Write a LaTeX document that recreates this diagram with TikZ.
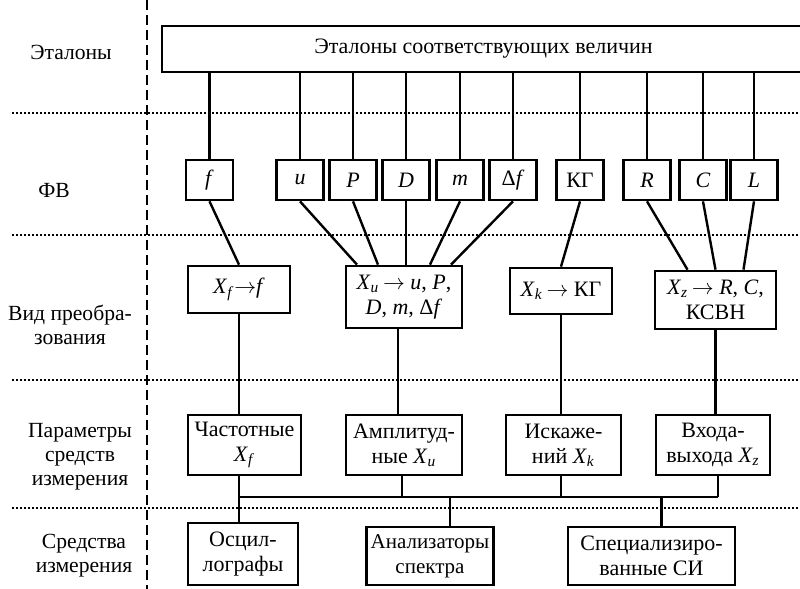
\documentclass[tikz,border=0pt]{standalone}
\usepackage{fontspec}
\setmainfont{Liberation Serif}
\tikzset{
  box/.style={draw, line width=1.35pt, inner sep=0pt, align=center,
    font=\fontsize{11}{12.5}\selectfont},
  fv/.style={box, minimum width=23.5pt, minimum height=20pt},
  lnk/.style={line width=1.2pt},
  sep/.style={line width=1.1pt, dash pattern=on 0.9pt off 1.1pt},
  lbl/.style={align=center, font=\fontsize{10.8}{12}\selectfont}
}
\newcommand{\ix}[2]{\textit{#1}\textsubscript{\textit{#2}}}

\begin{document}
\begin{tikzpicture}[x=0.5pt,y=-0.5pt]
    \useasboundingbox (0,0) rectangle (800,589);
    % level separators
    \foreach \yy in {113,235,380,508}
        \draw[sep] (12,\yy) -- (800,\yy);
    \draw[line width=1.4pt, dash pattern=on 5pt off 2.5pt] (147,0) -- (147,589);

    % row labels
    \node[lbl] (l1) at (71,52) {Эталоны};
    \node[lbl] (l2) at (54,190) {ФВ};
    \node[lbl] (l3) at (70,325) {Вид преобра-\\зования};
    \node[lbl] (l4) at (80,457) {Параметры\\средств\\измерения};
    \node[lbl] (l5) at (84,556) {Средства\\измерения};

    \node[box, minimum width=321.5pt, minimum height=23pt] (etalon) at (483.5,49)
        {Эталоны соответствующих величин};

    \node[fv] (f) at (209.5,180) {\textit{f}};
    \node[fv] (u) at (300,180) {\textit{u}};
    \node[fv] (P) at (353,180) {\textit{P}};
    \node[fv] (D) at (406,180) {\textit{D}};
    \node[fv] (m) at (460,180) {\textit{m}};
    \node[fv] (df) at (513,180) {Δ\textit{f}};
    \node[fv] (kg) at (580,180) {КГ};
    \node[fv] (R) at (647,180) {\textit{R}};
    \node[fv] (C) at (703,180) {\textit{C}};
    \node[fv] (L) at (754,180) {\textit{L}};
    \foreach \n in {f,u,P,D,m,df,kg,R,C,L}
        \draw[lnk] (\n.north) -- (\n.north |- etalon.south);

    \node[box, minimum width=51pt, minimum height=23.5pt] (Xf) at (239,289.5)
        {\ix{X}{f}$\rightarrow$\textit{f}};
    \node[box, minimum width=58pt, minimum height=31pt] (Xu) at (404,297)
        {\ix{X}{u}\,$\rightarrow$ \textit{u}, \textit{P},\\\textit{D}, \textit{m}, Δ\textit{f}};
    \node[box, minimum width=51pt, minimum height=23pt] (Xk) at (561,291)
        {\ix{X}{k}\,$\rightarrow$ КГ};
    \node[box, minimum width=60.5pt, minimum height=29pt] (Xz) at (715.5,300)
        {\ix{X}{z}\,$\rightarrow$ \textit{R}, \textit{C},\\КСВН};

    \draw[lnk] (f.south) -- (Xf.north);
    \draw[lnk] (u.south) -- ([xshift=-23.5pt]Xu.north);
    \draw[lnk] (P.south) -- ([xshift=-13pt]Xu.north);
    \draw[lnk] (D.south) -- (D.south |- Xu.north);
    \draw[lnk] (m.south) -- ([xshift=13pt]Xu.north);
    \draw[lnk] (df.south) -- ([xshift=23.5pt]Xu.north);
    \draw[lnk] (kg.south) -- (Xk.north);
    \draw[lnk] (R.south) -- ([xshift=-14pt]Xz.north);
    \draw[lnk] (C.south) -- (Xz.north);
    \draw[lnk] (L.south) -- ([xshift=14pt]Xz.north);

    \node[box, minimum width=56.5pt, minimum height=30pt] (pf) at (244.5,445)
        {Частотные\\\ix{X}{f}};
    \node[box, minimum width=58pt, minimum height=30pt] (pu) at (404,445)
        {Амплитуд-\\ные \ix{X}{u}};
    \node[box, minimum width=57.5pt, minimum height=30pt] (pk) at (563.5,445)
        {Искаже-\\ний \ix{X}{k}};
    \node[box, minimum width=57pt, minimum height=30pt] (pz) at (713,445)
        {Входа-\\выхода \ix{X}{z}};

    \draw[lnk] (Xf.south) -- (Xf.south |- pf.north);
    \draw[lnk] ([xshift=-3pt]Xu.south) -- ([xshift=-3pt]Xu.south |- pu.north);
    \draw[lnk] (Xk.south) -- (Xk.south |- pk.north);
    \draw[lnk] (Xz.south) -- (Xz.south |- pz.north);

    \node[box, minimum width=55pt, minimum height=31pt] (osc) at (243,554)
        {Осцил-\\лографы};
    \node[box, minimum width=63.5pt, minimum height=29pt,
        font=\fontsize{10.5}{12.5}\selectfont] (an) at (430,556)
        {Анализаторы\\спектра};
    \node[box, minimum width=83.5pt, minimum height=29pt] (sp) at (651.5,556)
        {Специализиро-\\ванные СИ};

    % common bus
    \coordinate (busL) at (239,497);
    \coordinate (busR) at (718,497);
    \draw[lnk] (busL) -- (busR);
    \draw[lnk] (Xf.south |- pf.south) -- (busL);
    \draw[lnk] ([xshift=-1pt]Xu.south |- pu.south) -- ([xshift=-1pt]Xu.south |- busL);
    \draw[lnk] (Xk.south |- pk.south) -- (Xk.south |- busL);
    \draw[lnk] (busR |- pz.south) -- (busR);
    \draw[lnk] (busL) -- (busL |- osc.north);
    \draw[lnk] ([xshift=10pt]an.north) -- ([xshift=10pt]an.north |- busL);
    \draw[lnk] ([xshift=5pt]sp.north) -- ([xshift=5pt]sp.north |- busL);
\end{tikzpicture}
\end{document}
